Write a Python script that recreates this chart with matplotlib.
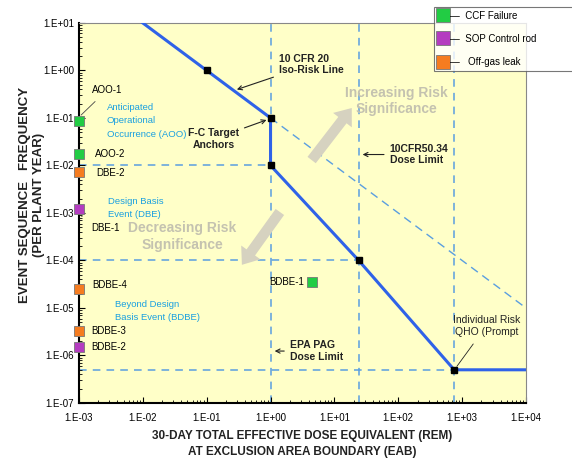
import numpy as np
import matplotlib.pyplot as plt
from matplotlib.lines import Line2D

plt.rcParams['font.family'] = ['Liberation Sans', 'DejaVu Sans']

# Risk limit curve (F-C target)
fc_dose = [1e-2, 1e-1, 1.0, 1.0, 24.0, 750.0, 1e4]
fc_freq = [10.0, 1.0, 1e-1, 1e-2, 1e-4, 5e-7, 5e-7]
anchor_dose = [1e-1, 1.0, 1.0, 24.0, 750.0]
anchor_freq = [1.0, 1e-1, 1e-2, 1e-4, 5e-7]
iso_dose = [1.0, 1e4]
iso_freq = [1e-1, 1e-5]

# Events
event_names = ['AOO-1', 'AOO-2', 'DBE-2', 'DBE-1', 'BDBE-4', 'BDBE-3', 'BDBE-2', 'BDBE-1']
event_dose = [1e-3, 1e-3, 1e-3, 1e-3, 1e-3, 1e-3, 1e-3, 4.5]
event_freq = [8.7e-2, 1.75e-2, 7.2e-3, 1.2e-3, 2.5e-5, 3.2e-6, 1.5e-6, 3.6e-5]
event_type = ['CCF Failure', 'CCF Failure', 'Off-gas leak', 'SOP Control rod',
              'Off-gas leak', 'Off-gas leak', 'SOP Control rod', 'CCF Failure']
type_names = ['CCF Failure', 'SOP Control rod', 'Off-gas leak']
type_colors = ['#22cc44', '#b43cc0', '#f57c20']

xticks = [1e-3, 1e-2, 1e-1, 1e0, 1e1, 1e2, 1e3, 1e4]
xticklabels = ['1.E-03', '1.E-02', '1.E-01', '1.E+00', '1.E+01', '1.E+02', '1.E+03', '1.E+04']
yticks = [1e-7, 1e-6, 1e-5, 1e-4, 1e-3, 1e-2, 1e-1, 1e0, 1e1]
yticklabels = ['1.E-07', '1.E-06', '1.E-05', '1.E-04', '1.E-03', '1.E-02', '1.E-01', '1.E+00', '1.E+01']

fig = plt.figure(figsize=(5.72, 4.59), dpi=100)
ax = fig.add_axes([0.138, 0.122, 0.7816, 0.828])
ax.set_facecolor('#ffffc8')
ax.set_xscale('log')
ax.set_yscale('log')
ax.set_xlim(1e-3, 1e4)
ax.set_ylim(1e-7, 1e1)

dash_c = '#5a9ee0'
# dashed guide lines
for xv in [1.0, 24.0, 750.0]:
    ax.axvline(xv, color=dash_c, lw=1.1, ls=(0, (5, 4)), zorder=1)
for yv, xe in [(1e-2, 1.0), (1e-4, 24.0), (5e-7, 750.0)]:
    ax.plot([1e-3, xe], [yv, yv], color=dash_c, lw=1.1, ls=(0, (5, 4)), zorder=1)
ax.plot(iso_dose, iso_freq, color=dash_c, lw=1.0, ls=(0, (6, 4)), zorder=1)

# main line
ax.plot(fc_dose, fc_freq, color='#2f62e8', lw=2.2, zorder=3)
ax.plot(anchor_dose, anchor_freq, ls='none', marker='s', ms=4.5, color='black', zorder=4)

# event markers
for name, d, f, t in zip(event_names, event_dose, event_freq, event_type):
    c = type_colors[type_names.index(t)]
    ax.plot(d, f, marker='s', ms=7.5, color=c, mec='#777777', mew=0.6, ls='none',
            zorder=5, clip_on=False)

lab_kw = dict(fontsize=7, color='black', zorder=6, va='center')
ax.annotate('AOO-1', xy=(1.08e-3, 1.15e-1), xytext=(1.6e-3, 0.39), fontsize=7, va='center',
            arrowprops=dict(arrowstyle='-', color='#444444', lw=0.6, shrinkA=4, shrinkB=0))
ax.text(1.78e-3, 1.75e-2, 'AOO-2', **lab_kw)
ax.text(1.85e-3, 7.0e-3, 'DBE-2', **lab_kw)
ax.annotate('DBE-1', xy=(1.1e-3, 8.5e-4), xytext=(1.55e-3, 4.8e-4), fontsize=7, va='center',
            arrowprops=dict(arrowstyle='-', color='#444444', lw=0.6, shrinkA=6, shrinkB=0))
ax.text(1.6e-3, 3.0e-5, 'BDBE-4', **lab_kw)
ax.text(1.54e-3, 3.2e-6, 'BDBE-3', **lab_kw)
ax.text(1.54e-3, 1.5e-6, 'BDBE-2', **lab_kw)
ax.text(3.3, 3.6e-5, 'BDBE-1', ha='right', fontsize=7, va='center')

blue_t = '#1aa0e0'
ax.text(2.74e-3, 0.0865, 'Anticipated\nOperational\nOccurrence (AOO)', color=blue_t,
        fontsize=6.8, va='center', linespacing=1.65)
ax.text(2.85e-3, 1.28e-3, 'Design Basis\nEvent (DBE)', color=blue_t, fontsize=6.8,
        va='center', linespacing=1.65)
ax.text(3.66e-3, 8.7e-6, 'Beyond Design\nBasis Event (BDBE)', color=blue_t, fontsize=6.8,
        va='center', linespacing=1.65)

# gray risk arrows and text
gray = '#d6d2c0'
astyle = 'simple,head_width=1.7,head_length=1.1,tail_width=0.75'
ax.annotate('', xy=(18.7, 0.162), xytext=(4.4, 0.013),
            arrowprops=dict(arrowstyle=astyle, color=gray, lw=0, shrinkA=0, shrinkB=0))
ax.annotate('', xy=(0.356, 8.1e-5), xytext=(1.4, 1.05e-3),
            arrowprops=dict(arrowstyle=astyle, color=gray, lw=0, shrinkA=0, shrinkB=0))
ax.text(95, 0.23, 'Increasing Risk\nSignificance', color='#c4c2b0', fontsize=10,
        ha='center', va='center', fontweight='bold', zorder=2)
ax.text(0.042, 3.2e-4, 'Decreasing Risk\nSignificance', color='#c4c2b0', fontsize=10,
        ha='center', va='center', fontweight='bold', zorder=2)

# black annotations
bk = dict(fontsize=7.5, fontweight='bold', color='#222222')
ax.annotate('10 CFR 20\nIso-Risk Line', xy=(0.27, 0.38), xytext=(1.35, 1.34),
            ha='left', va='center', **bk,
            arrowprops=dict(arrowstyle='->', color='#222222', lw=0.8))
ax.annotate('F-C Target\nAnchors', xy=(0.95, 0.095), xytext=(0.128, 0.036),
            ha='center', va='center', **bk,
            arrowprops=dict(arrowstyle='->', color='#222222', lw=0.8))
ax.annotate('10CFR50.34\nDose Limit', xy=(25, 0.017), xytext=(73, 0.017),
            ha='left', va='center', **bk,
            arrowprops=dict(arrowstyle='->', color='#222222', lw=0.8))
ax.annotate('EPA PAG\nDose Limit', xy=(1.05, 1.24e-6), xytext=(2.0, 1.24e-6),
            ha='left', va='center', **bk,
            arrowprops=dict(arrowstyle='->', color='#222222', lw=0.8))
ax.annotate('Individual Risk\nQHO (Prompt', xy=(780, 5.3e-7), xytext=(2400, 4.2e-6),
            ha='center', va='center', fontsize=7.5, color='#222222',
            arrowprops=dict(arrowstyle='-', color='#222222', lw=0.6, shrinkA=4))

# axes styling
ax.set_xticks(xticks)
ax.set_xticklabels(xticklabels)
ax.set_yticks(yticks)
ax.set_yticklabels(yticklabels)
ax.tick_params(which='both', direction='in', labelsize=7)
ax.tick_params(which='major', length=4)
ax.tick_params(which='minor', length=2.5)
ax.tick_params(axis='x', pad=7)
ax.tick_params(axis='both', which='both', top=False, right=False)
for s in ['left', 'bottom']:
    ax.spines[s].set_linewidth(1.5)
for s in ['top', 'right']:
    ax.spines[s].set_color('#888888')
    ax.spines[s].set_linewidth(0.8)

ax.set_xlabel('30-DAY TOTAL EFFECTIVE DOSE EQUIVALENT (REM)\nAT EXCLUSION AREA BOUNDARY (EAB)',
              fontsize=8.5, fontweight='bold', color='#222222', linespacing=1.4)
ax.xaxis.set_label_coords(0.5, -0.072)
ax.set_ylabel('EVENT SEQUENCE   FREQUENCY\n(PER PLANT YEAR)', fontsize=9.5,
              fontweight='bold', color='#222222')
ax.yaxis.set_label_coords(-0.076, 0.547)

handles = [Line2D([], [], marker='s', ms=10, color=c, mec='#777777', mew=0.6, ls='none')
           for c in type_colors]
leg = fig.legend(handles, ['\u2014  CCF Failure                  ',
                           '\u2014  SOP Control rod             ',
                           '\u2014   Off-gas leak                 '],
                 loc='upper left', bbox_to_anchor=(0.759, 0.985), fontsize=7,
                 frameon=True, fancybox=False, edgecolor='#555555', handletextpad=0.2,
                 labelspacing=1.35, borderpad=0.4, handlelength=1.0, borderaxespad=0)
leg.get_frame().set_linewidth(0.8)

fig.savefig('out.png', dpi=100, facecolor='white')
